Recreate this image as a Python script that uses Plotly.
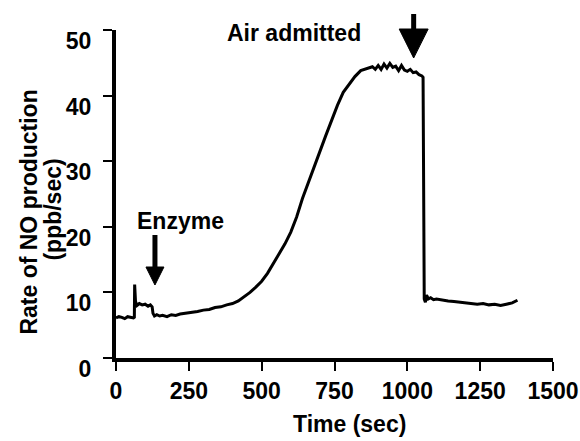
import plotly.graph_objects as go

# ---- data ----
time_s = [0, 10, 20, 30, 40, 50, 60, 63, 64, 67, 72, 80, 90, 100, 110, 118, 124, 127, 132,
          140, 150, 160, 175, 190, 205, 220, 240, 260, 280, 300, 320, 340, 360, 380, 400,
          420, 440, 460, 480, 500, 520, 540, 560, 580, 600, 620, 640, 660, 680, 700, 720,
          740, 760, 780, 800, 820, 840, 860, 880, 890, 900, 910, 920, 930, 940, 950, 960,
          970, 980, 990, 1000, 1010, 1020, 1030, 1040, 1050, 1054, 1058, 1062, 1066, 1072,
          1080, 1090, 1100, 1120, 1140, 1160, 1180, 1200, 1220, 1240, 1260, 1280, 1300,
          1320, 1340, 1360, 1378]
rate = [6.1, 6.3, 6.2, 6.0, 6.3, 6.2, 6.1, 6.2, 11.2, 8.6, 8.0, 8.3, 8.1, 8.2, 7.9, 8.1, 7.8, 6.8, 6.4,
        6.6, 6.4, 6.5, 6.3, 6.6, 6.5, 6.7, 6.8, 6.9, 7.1, 7.3, 7.4, 7.7, 7.8, 8.1, 8.3,
        8.7, 9.3, 10.0, 10.8, 11.7, 12.9, 14.4, 15.8, 17.4, 19.2, 21.5, 24.3, 26.8, 29.2, 31.5, 33.9,
        36.3, 38.5, 40.5, 41.8, 42.9, 43.8, 44.1, 44.4, 44.0, 44.6, 44.0, 44.8, 44.2, 44.9, 44.3, 44.5,
        43.8, 44.6, 43.9, 43.7, 44.0, 43.5, 43.6, 43.2, 43.0, 42.8, 9.0, 8.5, 9.6, 9.0,
        9.2, 8.9, 9.0, 8.8, 8.7, 8.6, 8.5, 8.4, 8.3, 8.2, 8.3, 8.1, 8.2,
        8.0, 8.2, 8.4, 8.8]

x_ticks = [0, 250, 500, 750, 1000, 1250, 1500]
y_ticks = [0, 10, 20, 30, 40, 50]

# ---- layout geometry (pixels) ----
W, H = 580, 441
L, R, T, B = 115.5, 27, 30, 83
PW, PH = W - L - R, H - T - B


def px(xp):
    return (xp - L) / PW


def py(yp):
    return (H - B - yp) / PH


FONT = "Liberation Sans, Arial, sans-serif"

fig = go.Figure()
fig.add_trace(go.Scatter(x=time_s, y=rate, mode="lines",
                         line=dict(color="black", width=3), hoverinfo="skip"))

shapes = []


def arrow(cx, top, head_top, tip, half):
    shapes.append(dict(type="line", xref="paper", yref="paper",
                       x0=px(cx), x1=px(cx), y0=py(top), y1=py(head_top + 2),
                       line=dict(color="black", width=5)))
    shapes.append(dict(type="path", xref="paper", yref="paper",
                       path=f"M {px(cx-half)} {py(head_top)} L {px(cx+half)} {py(head_top)} L {px(cx)} {py(tip)} Z",
                       fillcolor="black", line=dict(color="black", width=1)))


arrow(413.5, 14, 29, 58, 14.5)
arrow(154.5, 235, 267, 285, 9)


def label(text, x, y, angle=0):
    return dict(text=f"<b>{text}</b>", xref="paper", yref="paper", x=px(x), y=py(y),
                showarrow=False, xanchor="center", yanchor="middle", textangle=angle,
                font=dict(family=FONT, size=23, color="black"))


annotations = [
    label("Air admitted", 294, 33),
    label("Enzyme", 180, 221),
    label("Time (sec)", 349, 424),
    label("Rate of NO production", 28, 212, -90),
    label("(ppb/sec)", 52, 210, -90),
]

tickfont = dict(family=FONT, size=23, color="black", weight="bold")

fig.update_layout(
    width=W, height=H,
    margin=dict(l=L, r=R, t=T, b=B, pad=0, autoexpand=False),
    paper_bgcolor="white", plot_bgcolor="white",
    showlegend=False,
    shapes=shapes, annotations=annotations,
    xaxis=dict(range=[0, 1500], tickvals=x_ticks, ticktext=[f"<b>{v}</b>" for v in x_ticks],
               showgrid=False, zeroline=False, showline=True, linecolor="black", linewidth=4,
               ticks="outside", ticklen=9, tickwidth=2, tickcolor="black",
               ticklabelstandoff=0, tickfont=tickfont),
    yaxis=dict(range=[0, 50], tickvals=y_ticks, ticktext=[f"<b>{v}</b>" for v in y_ticks],
               showgrid=False, zeroline=False, showline=True, linecolor="black", linewidth=4,
               ticks="outside", ticklen=9, tickwidth=2, tickcolor="black",
               ticklabelstandoff=7, ticklabelshift=11, tickfont=tickfont),
)

fig.write_html("out.html", config={"displayModeBar": False},
               post_script="document.body.style.margin='0';document.body.style.overflow='hidden';")
